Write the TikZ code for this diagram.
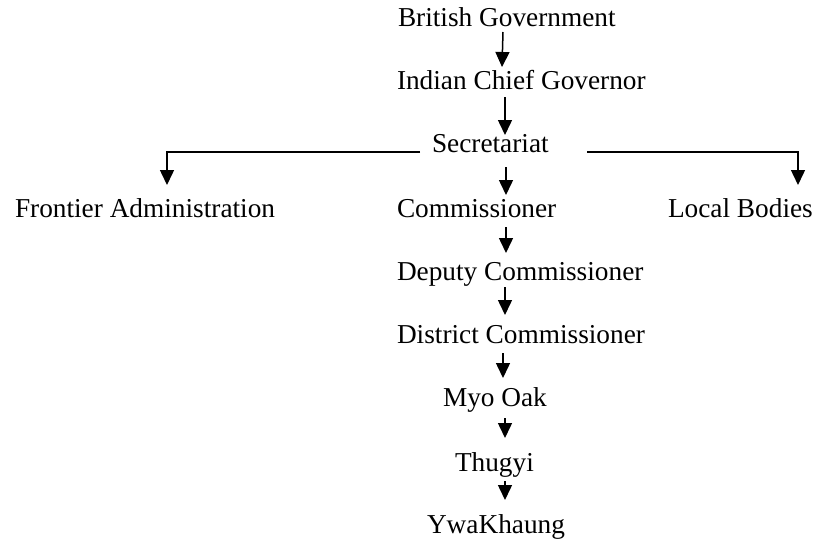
\documentclass[tikz,border=0pt]{standalone}
\usepackage{fontspec}
\setmainfont{Liberation Serif}
\usetikzlibrary{arrows.meta,calc}

\tikzset{
  rank/.style={anchor=base west, inner sep=0pt, outer sep=0pt,
               font=\fontsize{27.3}{32}\selectfont},
  down/.style={line width=1.5pt, -{Triangle[width=14pt,length=15pt]}},
  branch/.style={line width=1.5pt, -{Triangle[width=14pt,length=15pt]}}
}

\begin{document}
\begin{tikzpicture}[x=1pt, y=-1pt]
  \useasboundingbox (0,0) rectangle (814,541);

  % ranks of the administration
  \node[rank] (bg)  at (398,26)  {British Government};
  \node[rank] (icg) at (397,89)  {Indian Chief Governor};
  \node[rank] (sec) at (432,152) {Secretariat};
  \node[rank] (fa)  at (15,217)  {Frontier Administration};
  \node[rank] (com) at (397,217) {Commissioner};
  \node[rank] (lb)  at (668,217) {Local Bodies};
  \node[rank] (dep) at (397,280) {Deputy Commissioner};
  \node[rank] (dis) at (397,343) {District Commissioner};
  \node[rank] (myo) at (443,406) {Myo Oak};
  \node[rank] (thu) at (455,471) {Thugyi};
  \node[rank] (ywa) at (427,533) {YwaKhaung};

  % chain of command
  \draw[down] ($(bg.base west)+(105,6)$)   -- ($(icg.base west)+(105,-22)$);
  \draw[down] ($(icg.base west)+(108,8)$)  -- ($(sec.base west)+(73,-17)$);
  \draw[down] ($(sec.base west)+(74,15)$)  -- ($(com.base west)+(109,-22)$);
  \draw[down] ($(com.base west)+(109,10)$) -- ($(dep.base west)+(109,-27)$);
  \draw[down] ($(dep.base west)+(108,7)$)  -- ($(dis.base west)+(108,-28)$);
  \draw[down] ($(dis.base west)+(106,10)$) -- ($(myo.base west)+(60,-28)$);
  \draw[down] ($(myo.base west)+(62,12)$)  -- ($(thu.base west)+(50,-33)$);
  \draw[down] ($(thu.base west)+(50,10)$)  -- ($(ywa.base west)+(78,-33)$);

  % side branches from the Secretariat
  \draw[branch] ($(sec.base west)+(-12,0)$) -| ($(fa.base west)+(152,-32)$);
  \draw[branch] ($(sec.base west)+(155,0)$) -| ($(lb.base west)+(130,-32)$);
\end{tikzpicture}
\end{document}
